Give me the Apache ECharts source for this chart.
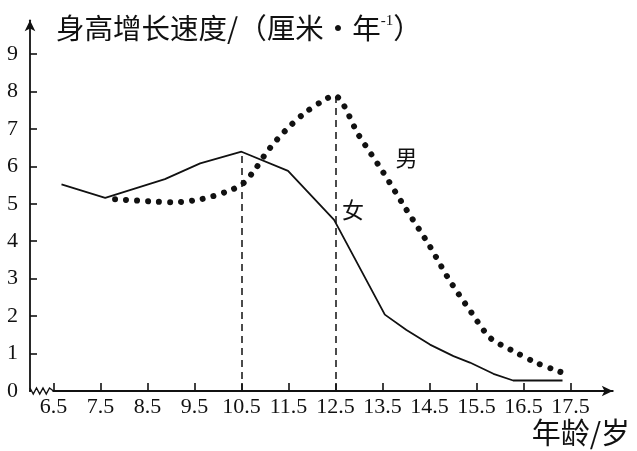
<!DOCTYPE html>
<html>
<head>
<meta charset="utf-8">
<script src="https://cdn.jsdelivr.net/npm/echarts@6/dist/echarts.min.js"></script>
<style>
  html, body { margin: 0; padding: 0; background: #fff; }
  #main { width: 637px; height: 451px; }
</style>
</head>
<body>
<div id="main"></div>
<script>
// 女 (实线)
const girlAges = [6.67, 7.6, 8.87, 9.62, 10.5, 11.49, 12.47, 13.55, 14.01, 14.51, 15.01, 15.36, 15.86, 16.28, 17.33]
const girlSpeed = [5.52, 5.16, 5.66, 6.08, 6.39, 5.88, 4.57, 2.04, 1.63, 1.24, 0.93, 0.76, 0.46, 0.28, 0.28]

// 男 (圆点)
const boyAges = [7.81, 8.64, 9.01, 9.63, 10.24, 10.54, 10.79, 11.01, 11.26, 11.55, 11.85, 12.23, 12.47,
  13.0, 13.5, 13.95, 14.5, 14.9, 15.4, 15.79, 16.23, 16.76, 17.24, 17.42]
const boySpeed = [5.12, 5.06, 5.04, 5.12, 5.35, 5.55, 5.92, 6.33, 6.72, 7.10, 7.43, 7.75, 7.89,
  6.82, 5.87, 4.96, 3.88, 3.01, 2.08, 1.42, 1.10, 0.76, 0.53, 0.45]

// 虚线位置
const guideAges = [10.5, 12.5]
const guideTops = [6.39, 7.85]

const xTicks = [6.5, 7.5, 8.5, 9.5, 10.5, 11.5, 12.5, 13.5, 14.5, 15.5, 16.5, 17.5]
const yTicks = [1, 2, 3, 4, 5, 6, 7, 8, 9]
const yLabels = [0, 1, 2, 3, 4, 5, 6, 7, 8, 9]

const ink = '#111'
const numFont = '"Liberation Serif", "DejaVu Serif", serif'
const cjkFont = '"Noto Sans CJK SC", sans-serif'

function pairs (xs, ys) {
  return xs.map((x, i) => [x, ys[i]])
}

function guideLine (i) {
  return [{ coord: [guideAges[i], 0] }, { coord: [guideAges[i], guideTops[i]] }]
}

const chart = echarts.init(document.getElementById('main'), null, { renderer: 'canvas' })

const option = {
  backgroundColor: '#fff',
  animation: false,
  title: [
    {
      left: 51,
      top: 9,
      text: '{t|身高增长速度/（厘米·年}{s|-1}{t|）}',
      textStyle: {
        fontWeight: 'normal',
        rich: {
          t: { fontFamily: cjkFont, fontSize: 28.5, fontWeight: 'normal', color: ink },
          s: { fontFamily: numFont, fontSize: 15, fontWeight: 'normal', color: ink, verticalAlign: 'top', padding: [0, 0, 12, 0] }
        }
      }
    },
    {
      right: 2,
      top: 413,
      text: '年龄/岁',
      textStyle: { fontFamily: cjkFont, fontSize: 29, fontWeight: 'normal', color: ink }
    }
  ],
  grid: {
    left: 30,
    right: 24.2,
    top: 20.3,
    bottom: 60
  },
  xAxis: {
    type: 'value',
    min: 6,
    max: 18.4,
    splitLine: { show: false },
    axisLine: {
      onZero: false,
      symbol: ['none', 'arrow'],
      symbolSize: [8, 11],
      lineStyle: { color: ink, width: 1.8 }
    },
    axisTick: {
      inside: true,
      length: 8,
      customValues: xTicks,
      lineStyle: { color: ink, width: 1.6 }
    },
    axisLabel: {
      customValues: xTicks,
      margin: 5,
      color: ink,
      fontFamily: numFont,
      fontSize: 22,
      formatter: v => v.toFixed(1)
    }
  },
  yAxis: {
    type: 'value',
    min: 0,
    max: 9.9,
    splitLine: { show: false },
    axisLine: {
      show: true,
      symbol: ['none', 'arrow'],
      symbolSize: [8, 11],
      lineStyle: { color: ink, width: 1.8 }
    },
    axisTick: {
      show: true,
      inside: true,
      length: 7,
      customValues: yTicks,
      lineStyle: { color: ink, width: 1.6 }
    },
    axisLabel: {
      customValues: yLabels,
      margin: 12,
      color: ink,
      fontFamily: numFont,
      fontSize: 22
    }
  },
  series: [
    {
      name: '女',
      type: 'line',
      data: pairs(girlAges, girlSpeed),
      showSymbol: false,
      lineStyle: { color: ink, width: 1.8 },
      markLine: {
        silent: true,
        symbol: 'none',
        label: { show: false },
        lineStyle: { color: ink, width: 1.5, type: [7, 5] },
        data: [guideLine(0)]
      },
      markPoint: {
        silent: true,
        symbol: 'circle',
        symbolSize: 0,
        label: { show: true, formatter: '女', color: ink, fontFamily: cjkFont, fontSize: 22 },
        data: [{ coord: [12.87, 4.85] }]
      }
    },
    {
      name: '男',
      type: 'line',
      data: pairs(boyAges, boySpeed),
      showSymbol: false,
      smooth: 0.3,
      lineStyle: { color: ink, width: 6, type: [0.01, 11], cap: 'round' },
      markLine: {
        silent: true,
        symbol: 'none',
        label: { show: false },
        lineStyle: { color: ink, width: 1.5, type: [7, 5], cap: 'butt' },
        data: [guideLine(1)]
      },
      markPoint: {
        silent: true,
        symbol: 'circle',
        symbolSize: 0,
        label: { show: true, formatter: '男', color: ink, fontFamily: cjkFont, fontSize: 22 },
        data: [{ coord: [14.01, 6.22] }]
      }
    }
  ]
}

chart.setOption(option)

// 横轴起点的折断符号
const x0 = chart.convertToPixel({ xAxisIndex: 0 }, 6)
const x1 = chart.convertToPixel({ xAxisIndex: 0 }, 6.5)
const y0 = chart.convertToPixel({ yAxisIndex: 0 }, 0)
const teeth = 6
const zig = []
for (let i = 0; i <= teeth; i++) {
  zig.push([x0 + (x1 - x0 - 4) * i / teeth, y0 + (i % 2 ? 3 : -3)])
}
zig.push([x1, y0])
chart.setOption({
  graphic: [
    {
      type: 'rect',
      shape: { x: x0 + 1, y: y0 - 2, width: x1 - x0 - 2, height: 4 },
      style: { fill: '#fff' },
      z: 100
    },
    {
      type: 'polyline',
      shape: { points: zig },
      style: { stroke: ink, lineWidth: 1.4, fill: null },
      z: 101
    }
  ]
})
</script>
</body>
</html>
